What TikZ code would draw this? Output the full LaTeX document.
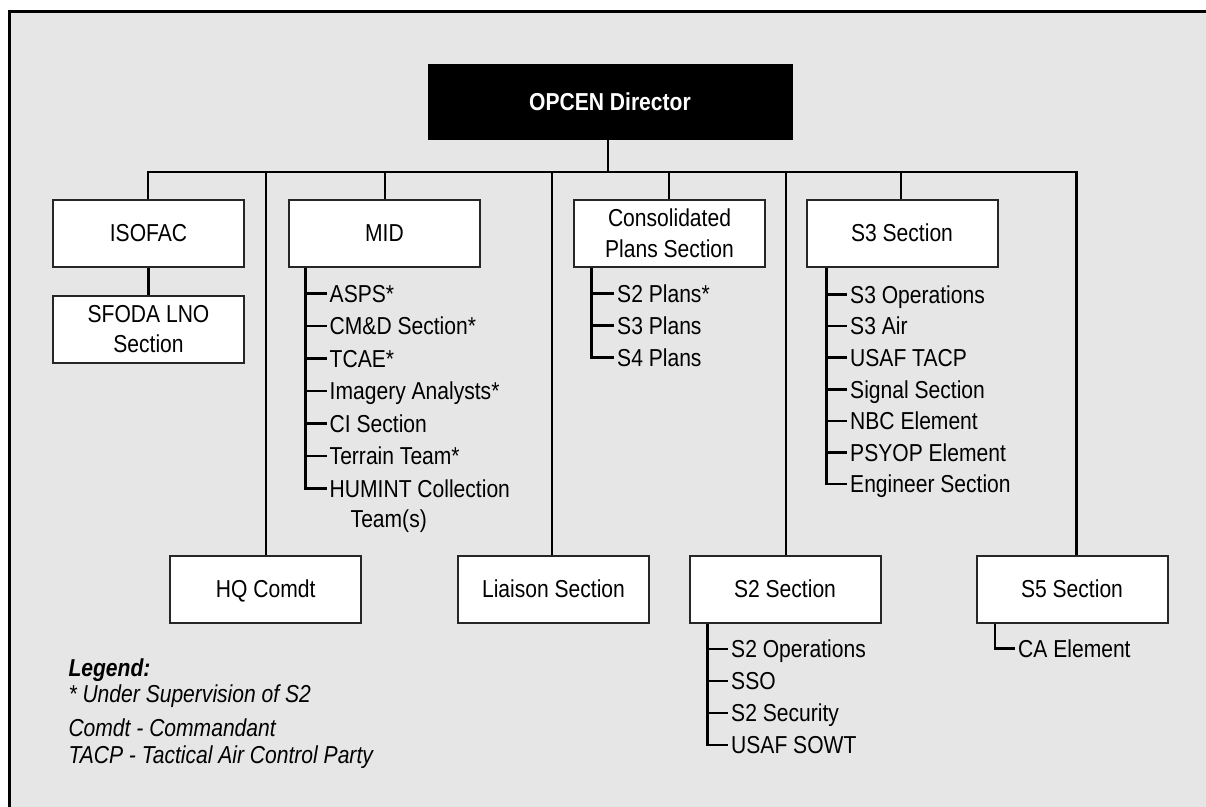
\documentclass[tikz,border=0pt]{standalone}
\usepackage{fontspec}
\setmainfont{Liberation Sans}[FakeStretch=0.86]
\definecolor{bg}{HTML}{E6E6E6}
\definecolor{bx}{HTML}{262626}
\begin{document}
\begin{tikzpicture}[x=1pt,y=-1pt,
  box2/.style={draw=bx, line width=2pt, fill=white, minimum width=191pt, minimum height=67pt,
    inner sep=0pt, align=center, font=\fontsize{24.5}{30.5}\selectfont},
  box/.style={box2, text height=17.5pt, text depth=0pt},
  conn/.style={line width=2.9pt, black},
  lconn/.style={line width=2.6pt, black},
  item/.style={anchor=west, inner xsep=3pt, inner ysep=0pt, text height=17.5pt, text depth=0pt,
    font=\fontsize{24.5}{30}\selectfont},
  leg/.style={anchor=base west, inner sep=0pt, font=\fontsize{24.5}{30}\selectfont\itshape}]
\useasboundingbox (0,0) rectangle (1206,806);
\fill[white] (0,0) rectangle (1206,806);
\fill[bg] (9.5,11.5) rectangle (1212,812);
\draw[line width=3pt] (9.5,812) -- (9.5,11.5) -- (1212,11.5);

% boxes
\node[box, fill=black, draw=black, text=white, minimum width=363pt, minimum height=74pt,
  font=\fontsize{24.5}{30}\selectfont\bfseries] (opcen) at (610,102) {OPCEN Director};
\node[box] (isofac) at (148.5,233) {ISOFAC};
\node[box2] (sfoda) at (148.5,329) {SFODA LNO\\Section};
\node[box] (mid) at (384.5,233) {MID};
\node[box2] (cons) at (669.5,233) {Consolidated\\Plans Section};
\node[box] (s3) at (902,233) {S3 Section};
\node[box] (hq) at (265.7,589) {HQ Comdt};
\node[box] (liaison) at (553.5,589) {Liaison Section};
\node[box] (s2) at (785,589) {S2 Section};
\node[box] (s5) at (1072,589) {S5 Section};

% bus
\coordinate (b1) at (148,172);
\coordinate (b2) at (266,172);
\coordinate (b3) at (385,172);
\coordinate (b4) at (552,172);
\coordinate (b5) at (608,172);
\coordinate (b6) at (669,172);
\coordinate (b7) at (786,172);
\coordinate (b8) at (901,172);
\coordinate (b9) at (1076.7,172);
\draw[conn] (b1 |- isofac.north) -- (b1) -- (b9) -- (b9 |- s5.north);
\draw[conn] (b5) -- (b5 |- opcen.south);
\draw[conn] (b2) -- (b2 |- hq.north);
\draw[conn] (b3) -- (b3 |- mid.north);
\draw[conn] (b4) -- (b4 |- liaison.north);
\draw[conn] (b6) -- (b6 |- cons.north);
\draw[conn] (b7) -- (b7 |- s2.north);
\draw[conn] (b8) -- (b8 |- s3.north);
\draw[conn] (isofac) -- (sfoda);

% MID list
\coordinate (midT) at (305.5,300);
\node[item] (m1) at (326.5,293.5) {ASPS*};
\node[item] (m2) at (326.5,326) {CM\&D Section*};
\node[item] (m3) at (326.5,358.5) {TCAE*};
\node[item] (m4) at (326.5,391) {Imagery Analysts*};
\node[item] (m5) at (326.5,423.5) {CI Section};
\node[item] (m6) at (326.5,456) {Terrain Team*};
\node[item] (m7) at (326.5,488.5) {HUMINT Collection};
\node[item] (m8) at (347.5,519) {Team(s)};
\draw[lconn] (midT |- mid.south) |- (m7.west);
\foreach \i in {1,...,6} \draw[lconn] (midT |- m\i.west) -- (m\i.west);

% Consolidated list
\coordinate (consT) at (591.7,300);
\node[item] (c1) at (614,293.5) {S2 Plans*};
\node[item] (c2) at (614,325.7) {S3 Plans};
\node[item] (c3) at (614,357.5) {S4 Plans};
\draw[lconn] (consT |- cons.south) |- (c3.west);
\foreach \i in {1,2} \draw[lconn] (consT |- c\i.west) -- (c\i.west);

% S3 list
\coordinate (s3T) at (826.7,300);
\node[item] (t1) at (847,294.5) {S3 Operations};
\node[item] (t2) at (847,326.1) {S3 Air};
\node[item] (t3) at (847,357.7) {USAF TACP};
\node[item] (t4) at (847,389.3) {Signal Section};
\node[item] (t5) at (847,420.9) {NBC Element};
\node[item] (t6) at (847,452.5) {PSYOP Element};
\node[item] (t7) at (847,484.1) {Engineer Section};
\draw[lconn] (s3T |- s3.south) |- (t7.west);
\foreach \i in {1,...,6} \draw[lconn] (s3T |- t\i.west) -- (t\i.west);

% S2 list
\coordinate (s2T) at (707.5,650);
\node[item] (u1) at (728,649) {S2 Operations};
\node[item] (u2) at (728,681) {SSO};
\node[item] (u3) at (728,713) {S2 Security};
\node[item] (u4) at (728,745) {USAF SOWT};
\draw[lconn] (s2T |- s2.south) |- (u4.west);
\foreach \i in {1,2,3} \draw[lconn] (s2T |- u\i.west) -- (u\i.west);

% S5 list
\coordinate (s5T) at (995,650);
\node[item] (v1) at (1015,648.3) {CA Element};
\draw[lconn] (s5T |- s5.south) |- (v1.west);

% legend
\node[leg, font=\fontsize{24.5}{30}\selectfont\bfseries\itshape] (lg) at (68.3,676.7) {Legend:};
\node[leg] (l1) at (68.3,702.7) {* Under Supervision of S2};
\node[leg] (l2) at (68.3,736.7) {Comdt - Commandant};
\node[leg] (l3) at (68.3,763.3) {TACP - Tactical Air Control Party};
\end{tikzpicture}
\end{document}
